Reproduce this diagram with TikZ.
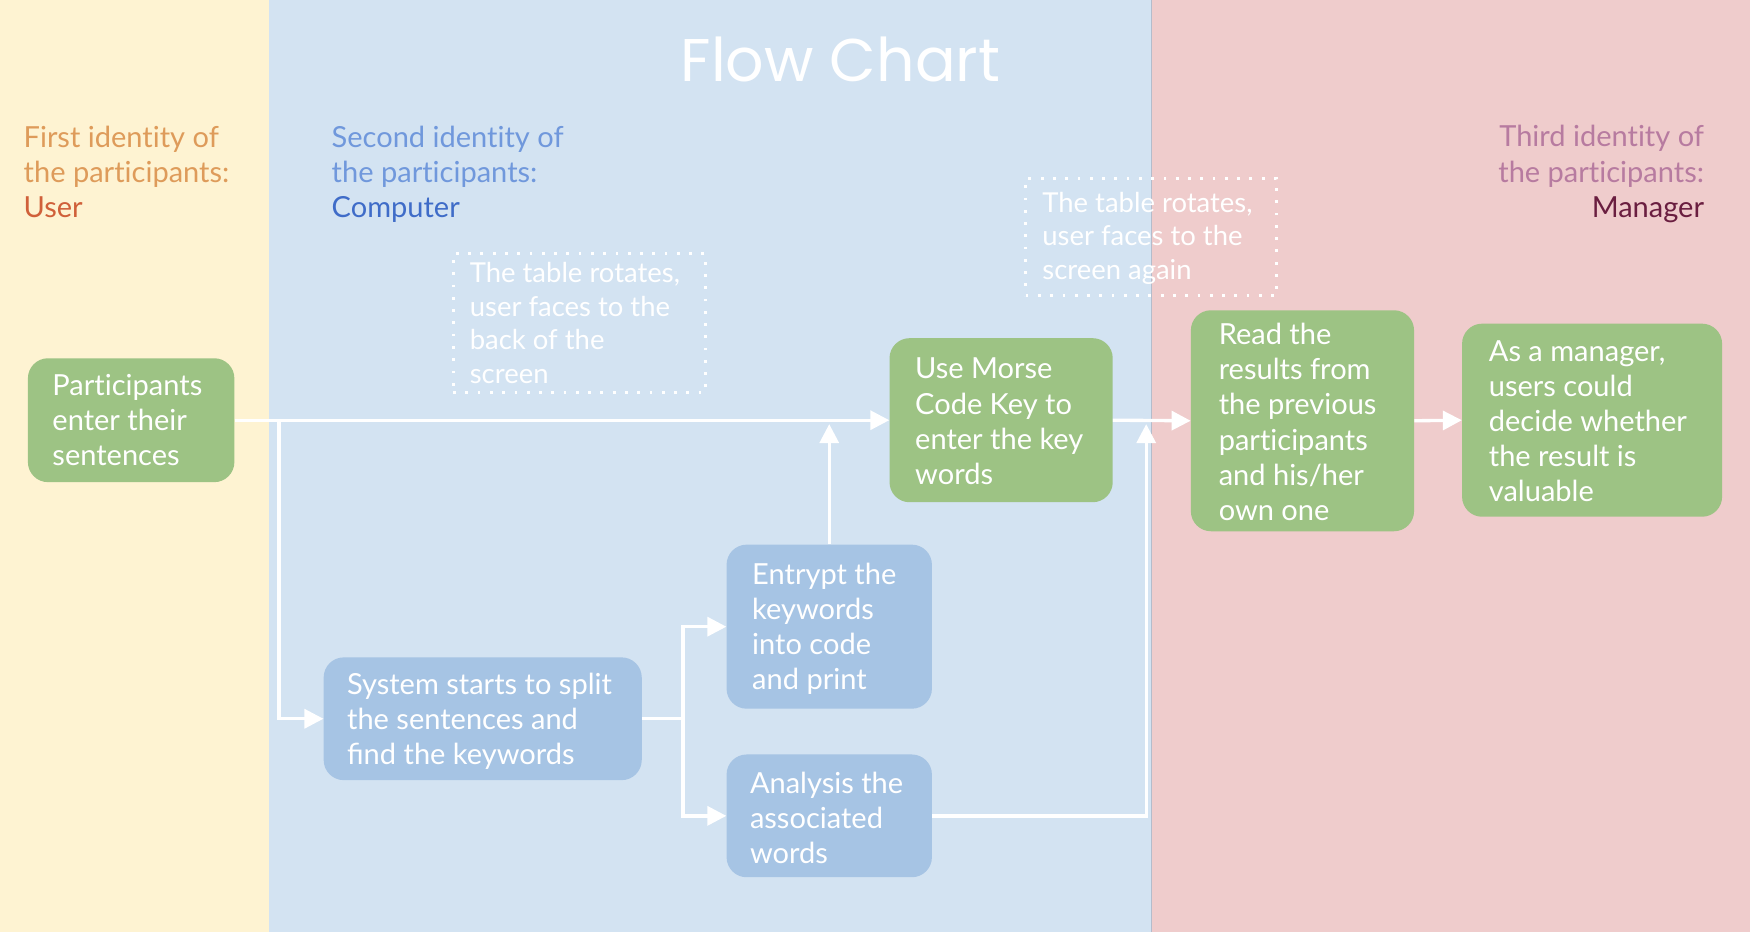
\documentclass[tikz,border=0pt]{standalone}
\usepackage{fontspec}
\setmainfont{Lato}
\newfontfamily\titlefont{Poppins}
\usetikzlibrary{arrows.meta}
\newcommand{\myti}{t\kern0pt i}
\definecolor{laneY}{HTML}{FEF3D2}
\definecolor{laneB}{HTML}{D3E3F2}
\definecolor{laneP}{HTML}{EFCCCC}
\definecolor{boxG}{HTML}{9DC384}
\definecolor{boxB}{HTML}{A6C4E4}
\definecolor{hdY}{HTML}{DE9B5A}
\definecolor{hdYb}{HTML}{D0603A}
\definecolor{hdB}{HTML}{7098DC}
\definecolor{hdBb}{HTML}{3F6CC8}
\definecolor{hdP}{HTML}{B77BA0}
\definecolor{hdPb}{HTML}{6A1E40}
\definecolor{divider}{HTML}{B4BCCB}
\begin{document}
\begin{tikzpicture}[x=1pt,y=-1pt,
  gbox/.style={rectangle, rounded corners=18pt, fill=boxG, draw=none, inner sep=0pt},
  bbox/.style={rectangle, rounded corners=18pt, fill=boxB, draw=none, inner sep=0pt},
  note/.style={rectangle, draw=white, line width=2.5pt, dash pattern=on 2.5pt off 8.5pt, inner sep=0pt},
  txt/.style={font=\fontsize{26}{31.5}\selectfont, text=white, align=left, inner sep=0pt, anchor=west},
  ntxt/.style={font=\fontsize{24.6}{30}\selectfont, text=white, align=left, inner sep=0pt, anchor=west},
  hdr/.style={font=\fontsize{26}{31.5}\selectfont, inner sep=0pt},
  conn/.style={draw=white, line width=3pt},
  arr/.style={conn, -{Triangle[length=17pt,width=17pt]}}
]
\useasboundingbox (0,0) rectangle (1568,835);
% lanes
\fill[laneY] (0,0) rectangle (241,835);
\fill[laneB] (241,0) rectangle (1032,835);
\fill[laneP] (1032,0) rectangle (1568,835);
\draw[divider, line width=0.8pt] (1032,0) -- (1032,835);

% title
\node[font=\titlefont\fontsize{54}{60}\selectfont, text=white, inner sep=0pt] (title) at (753,53) {Flow Chart};

% lane headers
\node[hdr, anchor=west, align=left] (h1) at (21,154) {\color{hdY}First iden\myti ty of\\\color{hdY}the par\myti cipants:\\\color{hdYb}User};
\node[hdr, anchor=west, align=left] (h2) at (297,156) {\color{hdB}Second iden\myti ty of\\\color{hdB}the par\myti cipants:\\\color{hdBb}Computer};
\node[hdr, anchor=east, align=right] (h3) at (1527,156) {\color{hdP}Third iden\myti ty of\\\color{hdP}the par\myti cipants:\\\color{hdPb}Manager};

% notes
\node[note, minimum width=226pt, minimum height=125pt] (n1) at (519,289.5) {};
\node[ntxt] (n1t) at ([xshift=16pt]n1.west) {The table rotates,\\user faces to the\\back of the\\screen};
\node[note, minimum width=225pt, minimum height=105pt] (n2) at (1031.5,212.5) {};
\node[ntxt] (n2t) at ([xshift=16pt,yshift=-1pt]n2.west) {The table rotates,\\user faces to the\\screen again};

% boxes
\node[gbox, minimum width=185pt, minimum height=111pt] (A) at (117.5,376.5) {};
\node[txt] (At) at ([xshift=22pt]A.west) {Par\myti cipants\\enter their\\sentences};

\node[gbox, minimum width=200pt, minimum height=147pt] (B) at (897,376.5) {};
\node[txt] (Bt) at ([xshift=23pt,yshift=-1pt]B.west) {Use Morse\\Code Key to\\enter the key\\words};

\node[gbox, minimum width=200pt, minimum height=198pt] (C) at (1167,377) {};
\node[txt] (Ct) at ([xshift=25pt,yshift=-1pt]C.west) {Read the\\results from\\the previous\\par\myti cipants\\and his/her\\own one};

\node[gbox, minimum width=233pt, minimum height=173pt] (D) at (1426.5,376.5) {};
\node[txt] (Dt) at ([xshift=24pt,yshift=-1pt]D.west) {As a manager,\\users could\\decide whether\\the result is\\valuable};

\node[bbox, minimum width=285pt, minimum height=110pt] (E) at (432.5,644) {};
\node[txt] (Et) at ([xshift=21pt,yshift=-2pt]E.west) {System starts to split\\the sentences and\\find the keywords};

\node[bbox, minimum width=184pt, minimum height=147pt] (F) at (743,561.5) {};
\node[txt] (Ft) at ([xshift=23pt,yshift=-2pt]F.west) {Entrypt the\\keywords\\into code\\and print};

\node[bbox, minimum width=184pt, minimum height=110pt] (G) at (743,731) {};
\node[txt] (Gt) at ([xshift=21pt,yshift=-2pt]G.west) {Analysis the\\associated\\words};

% connectors
\coordinate (j1) at (250,376.5);
\coordinate (j2) at (612,644);
\coordinate (m1) at (743,380);
\coordinate (m2) at (1027,380);
\draw[arr] (A.east) -- (B.west);
\draw[arr] (j1) |- (E.west);
\draw[conn] (E.east) -- (j2);
\draw[arr] (j2) |- (F.west);
\draw[arr] (j2) |- (G.west);
\draw[arr] (F.north) -- (m1);
\draw[arr] (G.east) -| (m2);
\draw[arr] (B.east) -- (C.west);
\draw[arr] (C.east) -- (D.west);
\end{tikzpicture}
\end{document}
